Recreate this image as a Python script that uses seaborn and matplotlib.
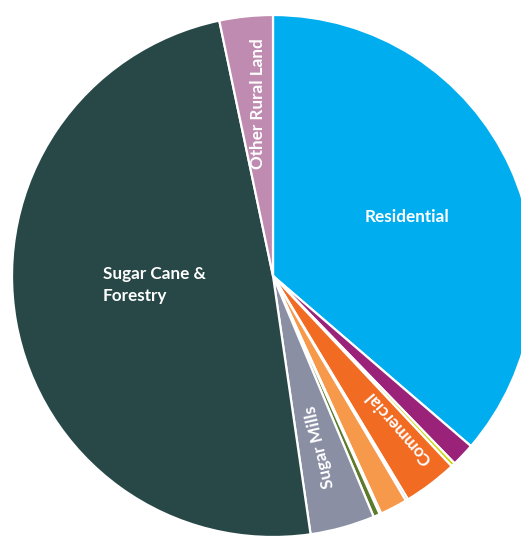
import matplotlib
matplotlib.use("Agg")
import matplotlib.pyplot as plt
import seaborn as sns
import numpy as np

# Land use shares (%), listed clockwise from 12 o'clock
categories = ["Residential", "Institutional", "Open Space", "Commercial", "Utilities",
              "Industrial", "Transport", "Agricultural Industry", "Sugar Mills",
              "Sugar Cane & Forestry", "Other Rural Land"]
shares = [36.3, 1.45, 0.25, 3.35, 0.15, 1.7, 0.1, 0.4, 4.0, 49.0, 3.3]
colors = ["#00AEEF", "#9B2279", "#C9D400", "#F26B23", "#2C4A63", "#F7994B",
          "#5C7FB3", "#5E7A2C", "#8B8FA4", "#284848", "#C08BB0"]

# Slice labels: text, position (data units), rotation
label_text = ["Residential", "Sugar Cane &\nForestry", "Other Rural Land", "Sugar Mills", "Commercial"]
label_xy = [(0.515, 0.225), (-0.456, -0.034), (-0.057, 0.659), (0.18, -0.655), (0.483, -0.582)]
label_rot = [0, 0, 90, 103, 131]

sns.set_theme(style="white")
plt.rcParams["font.family"] = ["Lato", "DejaVu Sans"]

fig = plt.figure(figsize=(5.21, 5.36), dpi=100)
ax = fig.add_axes([0, 0, 1, 1])

ax.pie(shares, colors=colors, startangle=90, counterclock=False, radius=1.0,
       wedgeprops=dict(edgecolor="white", linewidth=1.6))

for txt, (x, y), rot in zip(label_text, label_xy, label_rot):
    ax.text(x, y, txt, color="white", fontsize=12.3, fontweight="bold",
            rotation=rot, rotation_mode="anchor" if rot else "default",
            ha="center", va="center", multialignment="left", linespacing=1.45)

# Pie centre sits at (273, 276) px with a 261 px radius; right/bottom run off the canvas
ppu = 261.0
ax.set_aspect("auto")
ax.set_xlim(-273 / ppu, (521 - 273) / ppu)
ax.set_ylim(-(536 - 276) / ppu, 276 / ppu)
ax.axis("off")

fig.savefig("out.png", dpi=100, facecolor="white")
